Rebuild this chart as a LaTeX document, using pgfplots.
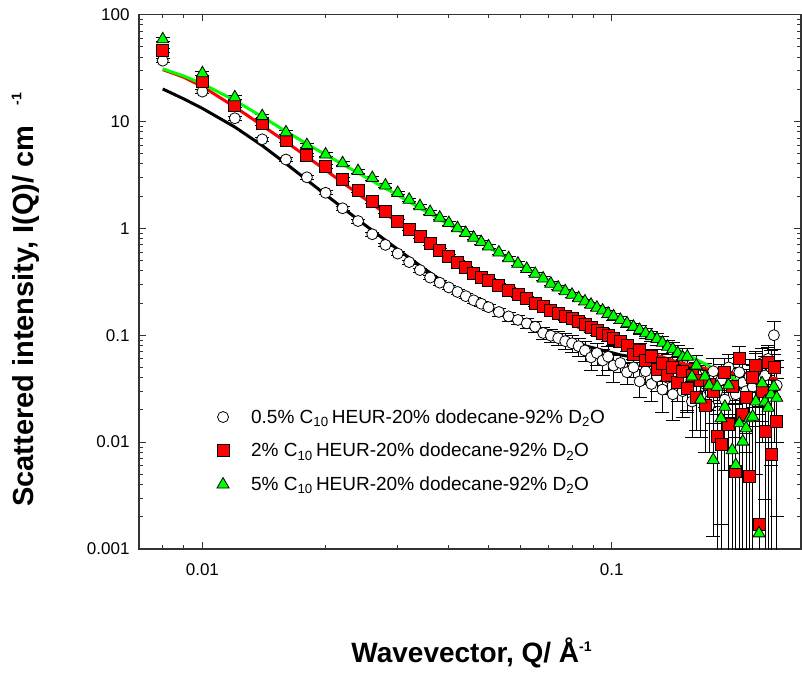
\documentclass[border=0pt]{standalone}
\usepackage{fontspec}
\setmainfont{Liberation Sans}
\usepackage{pgfplots}
\usepackage{pgfplotstable}
\pgfplotsset{compat=1.18}
\definecolor{mygreen}{RGB}{0,255,0}
\definecolor{myred}{RGB}{255,0,0}

\pgfplotstableread{
q I e
0.008 37 1.5
0.010 19 0.8
0.012 10.7 0.43
0.014 6.8 0.27
0.016 4.4 0.18
0.018 3.0 0.12
0.020 2.15 0.09
0.022 1.54 0.06
0.024 1.17 0.05
0.026 0.88 0.035
0.028 0.70 0.03
0.030 0.58 0.025
0.032 0.483 0.02
0.034 0.407 0.018
0.036 0.346 0.016
0.038 0.310 0.015
0.040 0.280 0.014
0.042 0.254 0.013
0.044 0.232 0.013
0.046 0.212 0.012
0.048 0.197 0.012
0.050 0.183 0.012
0.053 0.165 0.014
0.056 0.150 0.014
0.059 0.139 0.014
0.062 0.129 0.014
0.065 0.120 0.014
0.068 0.105 0.014
0.071 0.099 0.014
0.074 0.094 0.014
0.077 0.088 0.015
0.080 0.084 0.015
0.083 0.079 0.015
0.086 0.072 0.015
0.089 0.062 0.015
0.092 0.068 0.016
0.095 0.058 0.016
0.098 0.063 0.016
0.101 0.052 0.016
0.105 0.055 0.010
0.109 0.045 0.010
0.113 0.050 0.010
0.117 0.037 0.011
0.121 0.046 0.011
0.125 0.035 0.011
0.129 0.041 0.011
0.133 0.031 0.012
0.137 0.040 0.012
0.141 0.028 0.012
0.145 0.036 0.012
0.149 0.030 0.013
0.153 0.033 0.013
0.157 0.024 0.013
0.161 0.043 0.013
0.165 0.027 0.014
0.169 0.035 0.014
0.173 0.022 0.014
0.177 0.046 0.015
0.181 0.030 0.015
0.185 0.038 0.015
0.189 0.025 0.016
0.193 0.050 0.016
0.197 0.034 0.016
0.201 0.028 0.017
0.205 0.045 0.017
0.209 0.036 0.017
0.213 0.030 0.018
0.217 0.041 0.018
0.221 0.033 0.019
0.225 0.048 0.019
0.229 0.038 0.020
0.233 0.055 0.020
0.237 0.042 0.021
0.241 0.060 0.021
0.245 0.050 0.022
0.249 0.100 0.034
0.253 0.034 0.024
}\blackdata

\pgfplotstableread{
q I ep em
0.008 46.5 1.9 1.9
0.010 23.5 0.9 0.9
0.012 14.2 0.6 0.6
0.014 9.6 0.4 0.4
0.016 6.7 0.27 0.27
0.018 4.85 0.19 0.19
0.020 3.77 0.15 0.15
0.022 2.87 0.11 0.11
0.024 2.28 0.09 0.09
0.026 1.77 0.07 0.07
0.028 1.45 0.06 0.06
0.030 1.17 0.05 0.05
0.032 0.987 0.04 0.04
0.034 0.841 0.034 0.034
0.036 0.724 0.029 0.029
0.038 0.628 0.025 0.025
0.040 0.548 0.022 0.022
0.042 0.483 0.019 0.019
0.044 0.427 0.017 0.017
0.046 0.379 0.015 0.015
0.048 0.351 0.014 0.014
0.050 0.325 0.013 0.013
0.053 0.292 0.015 0.015
0.056 0.264 0.014 0.014
0.059 0.239 0.013 0.013
0.062 0.219 0.013 0.013
0.065 0.200 0.013 0.013
0.068 0.185 0.012 0.012
0.071 0.171 0.012 0.012
0.074 0.161 0.012 0.012
0.077 0.151 0.012 0.012
0.080 0.143 0.012 0.012
0.083 0.135 0.012 0.012
0.086 0.127 0.012 0.012
0.089 0.119 0.012 0.012
0.092 0.112 0.012 0.012
0.095 0.105 0.012 0.012
0.098 0.099 0.012 0.012
0.101 0.093 0.012 0.012
0.105 0.087 0.010 0.010
0.109 0.080 0.010 0.010
0.113 0.066 0.010 0.010
0.117 0.072 0.011 0.011
0.121 0.058 0.011 0.011
0.125 0.063 0.011 0.011
0.129 0.048 0.011 0.011
0.133 0.055 0.012 0.012
0.137 0.042 0.012 0.012
0.141 0.050 0.012 0.012
0.145 0.036 0.012 0.012
0.149 0.046 0.013 0.013
0.153 0.032 0.013 0.013
0.157 0.042 0.013 0.013
0.161 0.026 0.013 0.013
0.165 0.038 0.014 0.014
0.169 0.022 0.014 0.014
0.173 0.035 0.014 0.014
0.177 0.030 0.015 0.015
0.181 0.0112 0.015 0.0108
0.185 0.0095 0.015 0.0091
0.189 0.045 0.016 0.016
0.193 0.0147 0.016 0.0143
0.197 0.033 0.016 0.016
0.201 0.0053 0.017 0.0049
0.205 0.061 0.017 0.017
0.209 0.018 0.017 0.017
0.213 0.026 0.018 0.018
0.217 0.0048 0.018 0.0044
0.221 0.040 0.019 0.019
0.225 0.052 0.019 0.019
0.229 0.0017 0.020 0.0013
0.233 0.030 0.020 0.020
0.237 0.0125 0.021 0.0121
0.241 0.056 0.021 0.021
0.245 0.0076 0.022 0.0072
0.249 0.050 0.023 0.023
0.253 0.0155 0.024 0.0151
}\reddata

\pgfplotstableread{
q I ep em
0.008 58.6 2.3 2.3
0.010 28.2 1.1 1.1
0.012 16.8 0.7 0.7
0.014 11.2 0.45 0.45
0.016 7.9 0.32 0.32
0.018 6.0 0.24 0.24
0.020 4.9 0.2 0.2
0.022 4.06 0.16 0.16
0.024 3.43 0.14 0.14
0.026 2.95 0.12 0.12
0.028 2.51 0.1 0.1
0.030 2.14 0.085 0.085
0.032 1.85 0.074 0.074
0.034 1.61 0.064 0.064
0.036 1.42 0.057 0.057
0.038 1.256 0.05 0.05
0.040 1.119 0.045 0.045
0.042 1.003 0.04 0.04
0.044 0.903 0.036 0.036
0.046 0.817 0.033 0.033
0.048 0.743 0.03 0.03
0.050 0.677 0.027 0.027
0.053 0.594 0.024 0.024
0.056 0.525 0.021 0.021
0.059 0.467 0.019 0.019
0.062 0.417 0.017 0.017
0.065 0.375 0.015 0.015
0.068 0.339 0.014 0.014
0.071 0.303 0.013 0.013
0.074 0.279 0.012 0.012
0.077 0.258 0.012 0.012
0.080 0.239 0.011 0.011
0.083 0.222 0.011 0.011
0.086 0.207 0.011 0.011
0.089 0.193 0.011 0.011
0.092 0.181 0.011 0.011
0.095 0.170 0.011 0.011
0.098 0.159 0.011 0.011
0.101 0.150 0.011 0.011
0.105 0.139 0.010 0.010
0.109 0.129 0.010 0.010
0.113 0.120 0.010 0.010
0.117 0.112 0.011 0.011
0.121 0.1045 0.011 0.011
0.125 0.098 0.011 0.011
0.129 0.092 0.011 0.011
0.133 0.085 0.012 0.012
0.137 0.078 0.012 0.012
0.141 0.074 0.012 0.012
0.145 0.068 0.012 0.012
0.149 0.062 0.013 0.013
0.153 0.063 0.013 0.013
0.157 0.041 0.013 0.013
0.161 0.052 0.013 0.013
0.165 0.025 0.014 0.014
0.169 0.041 0.014 0.014
0.173 0.034 0.014 0.014
0.177 0.0068 0.015 0.0055
0.181 0.033 0.015 0.015
0.185 0.0167 0.015 0.015
0.189 0.0214 0.016 0.016
0.193 0.034 0.016 0.016
0.197 0.0084 0.016 0.0080
0.201 0.0061 0.017 0.0057
0.205 0.015 0.017 0.0146
0.209 0.0101 0.017 0.0097
0.213 0.0135 0.018 0.0131
0.217 0.0167 0.018 0.0163
0.221 0.0173 0.019 0.0169
0.225 0.024 0.019 0.019
0.229 0.0014 0.020 0.0010
0.233 0.0355 0.020 0.020
0.237 0.0239 0.021 0.021
0.241 0.021 0.021 0.0206
0.245 0.028 0.022 0.022
0.249 0.033 0.023 0.023
0.253 0.026 0.024 0.024
}\greendata

\pgfplotstableread{
q I
0.008 20.1
0.009 16.26
0.010 13.23
0.012 8.86
0.014 5.94
0.016 4.03
0.018 2.83
0.020 2.06
0.025 1.069
0.030 0.635
0.035 0.413
0.040 0.292
0.050 0.1826
0.060 0.1351
0.072 0.1028
0.087 0.0789
0.105 0.0654
0.125 0.0583
0.147 0.0535
0.177 0.0455
0.198 0.0427
0.225 0.0403
0.254 0.0380
}\blackfit

\pgfplotstableread{
q I
0.008 30.5
0.009 25.9
0.010 21.2
0.012 13.66
0.014 9.15
0.016 6.43
0.018 4.68
0.020 3.50
0.025 1.875
0.030 1.135
0.035 0.755
0.040 0.537
0.050 0.321
0.060 0.223
0.070 0.165
0.085 0.113
0.100 0.090
0.1218 0.070
0.147 0.055
0.177 0.047
0.198 0.044
0.225 0.0415
0.254 0.039
}\redfit

\pgfplotstableread{
q I
0.008 31.0
0.009 26.6
0.010 22.5
0.012 15.7
0.014 11.04
0.016 8.07
0.018 6.15
0.020 4.88
0.025 3.02
0.030 2.04
0.040 1.084
0.050 0.664
0.072 0.3086
0.100 0.150
0.130 0.0899
0.160 0.060
0.190 0.0429
0.220 0.0322
0.254 0.0242
}\greenfit

\begin{document}
\begin{tikzpicture}
\useasboundingbox (0,0) rectangle (802bp,675bp);
\begin{axis}[
  at={(139bp,126bp)}, anchor=south west,
  scale only axis, width=662bp, height=534.5bp,
  xmode=log, ymode=log,
  xmin=0.007, xmax=0.29, ymin=0.001, ymax=100,
  log ticks with fixed point,
  /pgf/number format/precision=3,
  /pgf/number format/assume math mode=true,
  tick align=inside,
  major tick length=7bp, minor tick length=4bp,
  axis line style={line width=1.1bp, black!80},
  every tick/.style={line width=0.9bp, black!80},
  ticklabel style={font=\fontsize{17bp}{20bp}\selectfont},
  yticklabel style={xshift=-6bp},
  xticklabel style={yshift=-11bp},
  xlabel={\fontsize{28bp}{32bp}\selectfont\bfseries Wavevector, Q/ Å\raisebox{11bp}{\fontsize{14bp}{14bp}\selectfont -1}},
  ylabel={\fontsize{29bp}{32bp}\selectfont\bfseries Scattered intensity, I(Q)/ cm\hspace{20bp}\raisebox{12bp}{\fontsize{14bp}{14bp}\selectfont -1}},
  xlabel style={at={(axis description cs:0.5023,-0.1936)}, anchor=center},
  ylabel style={at={(axis description cs:-0.1715,0.4659)}, anchor=center},
  legend style={draw=none, fill=none, at={(axis description cs:0.113,0.269)}, anchor=north west,
    font=\fontsize{19bp}{22bp}\selectfont, row sep=14.5bp, cells={anchor=west},
    /tikz/every odd column/.append style={column sep=20bp}},
  legend cell align=left,
  error bars/error bar style={line width=0.8bp, black, solid},
  error bars/error mark=|,
  error bars/error mark options={line width=0.8bp, black, mark size=7bp},
]
\addplot[only marks, mark=*, mark size=5.5bp, mark options={fill=white, draw=black, line width=0.8bp},
  error bars/.cd, y dir=both, y explicit]
  table[x=q, y=I, y error=e] {\blackdata};
\addlegendentry{0.5\% C\textsubscript{10}\,HEUR-20\% dodecane-92\% D\textsubscript{2}O}
\addplot[only marks, mark=square*, mark size=6bp, mark options={fill=myred, draw=black, line width=0.8bp},
  error bars/.cd, y dir=both, y explicit]
  table[x=q, y=I, y error plus=ep, y error minus=em] {\reddata};
\addlegendentry{2\% C\textsubscript{10}\,HEUR-20\% dodecane-92\% D\textsubscript{2}O}
\addplot[only marks, mark=triangle*, mark size=7bp, mark options={fill=mygreen, draw=black, line width=0.8bp},
  error bars/.cd, y dir=both, y explicit]
  table[x=q, y=I, y error plus=ep, y error minus=em] {\greendata};
\addlegendentry{5\% C\textsubscript{10}\,HEUR-20\% dodecane-92\% D\textsubscript{2}O}
\addplot[forget plot, black, line width=3bp, no marks] table[x=q, y=I] {\blackfit};
\addplot[forget plot, myred, line width=3bp, no marks] table[x=q, y=I] {\redfit};
\addplot[forget plot, mygreen, line width=3bp, no marks] table[x=q, y=I] {\greenfit};
\end{axis}
\end{tikzpicture}
\end{document}
